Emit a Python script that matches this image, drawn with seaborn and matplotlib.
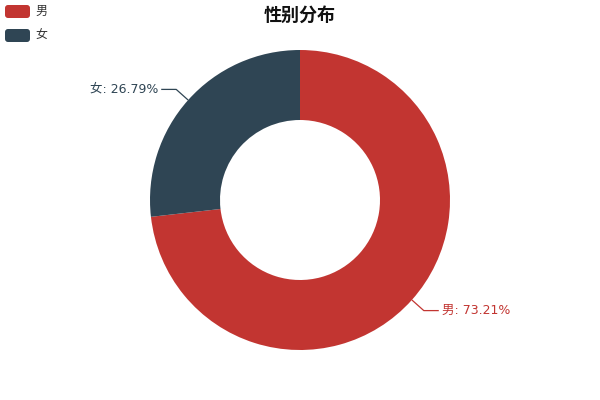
import numpy as np
import matplotlib
matplotlib.use("Agg")
import matplotlib.pyplot as plt
from matplotlib.patches import FancyBboxPatch
import seaborn as sns

categories = ["男", "女"]
values = [73.21, 26.79]
colors = ["#c23531", "#2f4554"]
title = "性别分布"

sns.set_theme(style="white")
plt.rcParams['font.family'] = ['Noto Sans CJK SC', 'DejaVu Sans']

W, H = 600, 400
fig = plt.figure(figsize=(6, 4), dpi=100)
ax = fig.add_axes([0, 0, 1, 1])

cx, cy = 300, H - 200
R, r_in = 150, 80
wedges, _ = ax.pie(values, colors=colors, startangle=90, counterclock=False,
                   radius=R, center=(cx, cy), frame=True,
                   wedgeprops=dict(width=R - r_in, edgecolor="none", linewidth=0))
ax.set_xlim(0, W)
ax.set_ylim(0, H)
ax.set_aspect("equal")
ax.axis("off")

# labels with leader lines
total = sum(values)
start = 90.0
for cat, v, col in zip(categories, values, colors):
    sweep = 360.0 * v / total
    mid = np.deg2rad(start - sweep / 2)
    start -= sweep
    x0, y0 = cx + R * np.cos(mid), cy + R * np.sin(mid)
    x1, y1 = cx + (R + 16) * np.cos(mid), cy + (R + 16) * np.sin(mid)
    side = 1 if np.cos(mid) >= 0 else -1
    x2 = x1 + side * 15
    ax.plot([x0, x1, x2], [y0, y1, y1], color=col, lw=0.9, solid_capstyle="butt")
    ax.text(x2 + side * 3, y1, f"{cat}: {v:.2f}%", color=col, fontsize=9,
            family=['DejaVu Sans', 'Noto Sans CJK SC'],
            ha="left" if side > 0 else "right", va="center")

# title
ax.text(W / 2, H - 15, title, fontsize=13, fontweight="bold", ha="center",
        va="center", color="#111111")

# legend
for i, (cat, col) in enumerate(zip(categories, colors)):
    top = 5 + i * 24
    ax.add_patch(FancyBboxPatch((5, H - top - 13), 25, 13,
                                boxstyle="round,pad=0,rounding_size=3",
                                facecolor=col, edgecolor="none"))
    ax.text(35, H - top - 6.5, cat, fontsize=8.6, color="#333333",
            ha="left", va="center")

fig.savefig("out.png", dpi=100)
